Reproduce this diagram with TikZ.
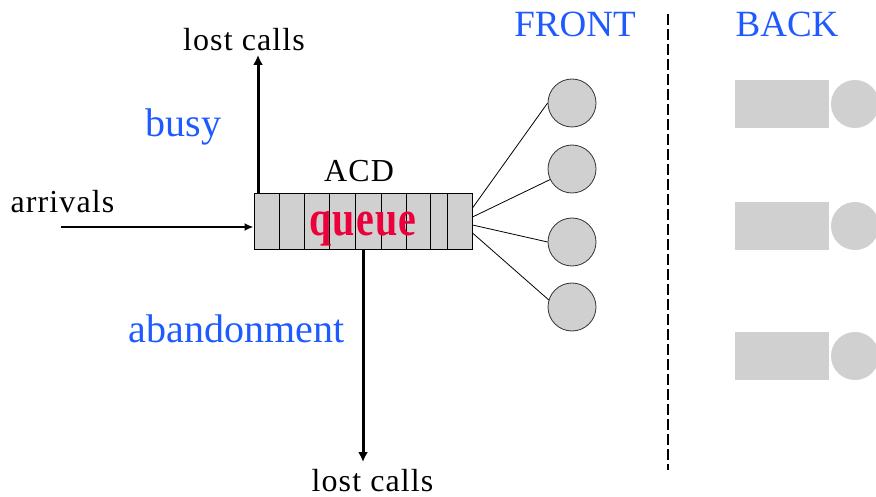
\documentclass[tikz,border=0pt]{standalone}
\usepackage{fontspec}
\setmainfont{Liberation Serif}
\usetikzlibrary{arrows.meta,calc}
\definecolor{boxgray}{RGB}{208,208,208}
\definecolor{labelblue}{RGB}{30,90,255}
\definecolor{queuered}{RGB}{235,0,60}
\tikzset{
  blk/.style={font=\fontsize{32}{36}\selectfont\addfontfeatures{LetterSpace=3.5}, inner sep=0pt, anchor=base},
  blu/.style={font=\fontsize{40}{44}\selectfont, text=labelblue, inner sep=0pt, anchor=base},
  hdr/.style={font=\fontsize{37}{40}\selectfont, text=labelblue, inner sep=0pt, anchor=base},
  flow/.style={line width=3pt, -{Latex[length=10pt,width=10pt]}},
  frontsrv/.style={circle, draw=black!80, line width=0.8pt, fill=boxgray, minimum size=48pt, inner sep=0pt},
  backbox/.style={rectangle, fill=boxgray, minimum width=94pt, minimum height=48pt, inner sep=0pt},
  backsrv/.style={circle, fill=boxgray, minimum size=48pt, inner sep=0pt},
  link/.style={line width=0.8pt}
}
\begin{document}
\begin{tikzpicture}[x=1pt,y=-1pt]
\useasboundingbox (0,0) rectangle (876,497);
% queue
\node[rectangle, draw=black, line width=1pt, fill=boxgray, minimum width=218pt, minimum height=56pt, inner sep=0pt] (q) at (363,222) {};
\foreach \x in {279,304,329,355,381,406,430,447}
  \draw[line width=1pt] (\x,194) -- (\x,250);
\node[font=\bfseries\fontsize{40}{44}\selectfont\addfontfeatures{LetterSpace=3}, text=queuered, inner sep=0pt, anchor=base] (qt) at (363,236) {\scalebox{1}[1.25]{queue}};
\node[blk] (acd) at (359,182) {ACD};
% labels
\node[blk] (arr) at (62.5,213) {arrivals};
\node[blk] (lc1) at (244,51) {lost calls};
\node[blk] (lc2) at (372.5,491) {lost calls};
\node[blu] (busy) at (183.5,137) {busy};
\node[blu] (aband) at (236.5,342) {abandonment};
\node[hdr] (front) at (575,37) {FRONT};
\node[hdr] (back) at (787,37) {BACK};
% arrows
\coordinate (as) at (61,227);
\coordinate (up) at (258,55);
\coordinate (dn) at (363,462);
\draw[line width=2.2pt, -{Latex[length=9pt,width=8pt]}] (as) -- (as -| q.west);
\draw[flow] (up |- q.north) -- (up);
\draw[flow] (q.south) -- (dn);
% front servers
\node[frontsrv] (f1) at (572,103) {};
\node[frontsrv] (f2) at (572,169) {};
\node[frontsrv] (f3) at (572,242) {};
\node[frontsrv] (f4) at (572,307) {};
\draw[link] ($(q.east)+(0,-14)$) -- (f1.west);
\draw[link] ($(q.east)+(0,-5)$) -- (f2);
\draw[link] ($(q.east)+(0,3)$) -- (f3.west);
\draw[link] ($(q.east)+(0,11)$) -- (f4.163);
% divider
\coordinate (d1) at (668,14);
\coordinate (d2) at (668,470);
\draw[line width=2pt, dash pattern=on 11pt off 4pt] (d1) -- (d2);
% back servers
\foreach \i/\y in {1/104,2/226,3/356}{
  \node[backbox] (b\i) at (782,\y) {};
  \node[backsrv] (bs\i) at (855,\y) {};
}
\end{tikzpicture}
\end{document}
